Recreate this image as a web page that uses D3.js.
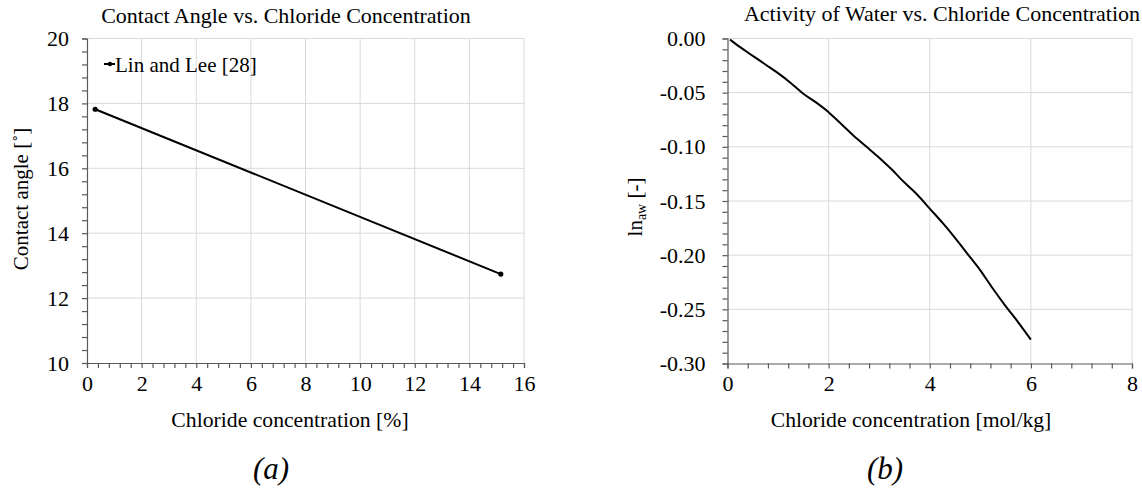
<!DOCTYPE html>
<html>
<head>
<meta charset="utf-8">
<script src="https://cdn.jsdelivr.net/npm/d3@7"></script>
<style>
  html, body { margin: 0; padding: 0; background: #fff; }
  text { font-family: "Liberation Serif", "Times New Roman", "DejaVu Serif", serif; }
</style>
</head>
<body>
<svg id="chart" width="1142" height="490"></svg>
<script>
// ---- Data: chart (a) ----
const angleConc = [0.3, 15.15];           // chloride concentration [%]
const angleVals = [17.82, 12.74];         // contact angle [deg]
const aXTicks = [0, 2, 4, 6, 8, 10, 12, 14, 16];
const aYTicks = [10, 12, 14, 16, 18, 20];
const aSeriesName = "Lin and Lee [28]";

// ---- Data: chart (b) ----
const molConc = [0.05, 0.25, 0.5, 0.75, 1.0, 1.25, 1.5, 1.75, 2.0, 2.25, 2.5, 2.75, 3.0,
                 3.25, 3.5, 3.75, 4.0, 4.25, 4.5, 4.75, 5.0, 5.25, 5.5, 5.75, 6.0];
const lnAw = [-0.001, -0.008, -0.016, -0.024, -0.032, -0.041, -0.051, -0.059, -0.068,
              -0.079, -0.090, -0.100, -0.110, -0.121, -0.133, -0.144, -0.157, -0.170,
              -0.184, -0.199, -0.214, -0.231, -0.247, -0.262, -0.278];
const bXTicks = [0, 2, 4, 6, 8];
const bYTicks = [0.00, -0.05, -0.10, -0.15, -0.20, -0.25, -0.30];

const svg = d3.select("#chart");
const axisColor = "#595959";
const gridColor = "#d9d9d9";
const FONT = '"Liberation Serif", "Times New Roman", "DejaVu Serif", serif';
const TICK_FS = 22;

function panel(opts) {
  const x = d3.scaleLinear().domain(opts.xDomain).range(opts.xRange);
  const y = d3.scaleLinear().domain(opts.yDomain).range(opts.yRange);
  const g = svg.append("g");

  g.append("g").selectAll("line").data(opts.xTicks.slice(1)).join("line")
    .attr("x1", d => x(d)).attr("x2", d => x(d))
    .attr("y1", opts.yRange[0]).attr("y2", opts.yRange[1])
    .attr("stroke", gridColor).attr("stroke-width", 1);
  g.append("g").selectAll("line").data(opts.yTicks.filter(d => d !== opts.yDomain[0])).join("line")
    .attr("x1", opts.xRange[0]).attr("x2", opts.xRange[1])
    .attr("y1", d => y(d)).attr("y2", d => y(d))
    .attr("stroke", gridColor).attr("stroke-width", 1);

  const xMinor = d3.range(0, Math.round((opts.xDomain[1] - opts.xDomain[0]) / opts.xMinor) + 1)
    .map(i => opts.xDomain[0] + i * opts.xMinor);
  const yMinor = d3.range(0, Math.round((opts.yDomain[1] - opts.yDomain[0]) / opts.yMinor) + 1)
    .map(i => opts.yDomain[0] + i * opts.yMinor);

  const gx = g.append("g").attr("transform", `translate(0,${opts.yRange[0]})`)
    .call(d3.axisBottom(x).tickValues(xMinor).tickSize(5).tickFormat(""));
  gx.selectAll("path, line").attr("stroke", axisColor).attr("stroke-width", 1.2);
  const gxl = g.append("g").attr("transform", `translate(0,${opts.yRange[0]})`)
    .call(d3.axisBottom(x).tickValues(opts.xTicks).tickSize(0).tickPadding(12).tickFormat(opts.xFmt));
  gxl.select("path").remove();
  gxl.selectAll("text").attr("fill", "#000").style("font-size", TICK_FS + "px");

  const gy = g.append("g").attr("transform", `translate(${opts.xRange[0]},0)`)
    .call(d3.axisLeft(y).tickValues(yMinor).tickSize(5).tickFormat(""));
  gy.selectAll("path, line").attr("stroke", axisColor).attr("stroke-width", 1.2);
  const gyl = g.append("g").attr("transform", `translate(${opts.xRange[0]},0)`)
    .call(d3.axisLeft(y).tickValues(opts.yTicks).tickSize(0).tickPadding(opts.yPad).tickFormat(opts.yFmt));
  gyl.select("path").remove();
  gyl.selectAll("text").attr("fill", "#000").style("font-size", TICK_FS + "px");

  return {x, y, g};
}

// ---- Panel (a) ----
const A = panel({
  xDomain: [0, 16], xRange: [87, 524],
  yDomain: [10, 20], yRange: [363, 38.5],
  xTicks: aXTicks, yTicks: aYTicks, xMinor: 0.4, yMinor: 0.4, yPad: 18,
  xFmt: d3.format("d"), yFmt: d3.format("d")
});
const aData = angleConc.map((c, i) => [c, angleVals[i]]);
A.g.append("path").datum(aData)
  .attr("d", d3.line().x(d => A.x(d[0])).y(d => A.y(d[1])))
  .attr("fill", "none").attr("stroke", "#000").attr("stroke-width", 2);
A.g.selectAll("circle.pt").data(aData).join("circle")
  .attr("cx", d => A.x(d[0])).attr("cy", d => A.y(d[1])).attr("r", 2.6).attr("fill", "#000");
A.g.append("line").attr("x1", 104).attr("x2", 115).attr("y1", 64).attr("y2", 64)
  .attr("stroke", "#000").attr("stroke-width", 2);
A.g.append("circle").attr("cx", 110).attr("cy", 64).attr("r", 2.2).attr("fill", "#000");
A.g.append("text").attr("x", 115).attr("y", 72).style("font-size", "21px").text(aSeriesName);

svg.append("text").attr("x", 286).attr("y", 23).attr("text-anchor", "middle")
  .style("font-size", "22px").text("Contact Angle vs. Chloride Concentration");
svg.append("text").attr("x", 290).attr("y", 427).attr("text-anchor", "middle")
  .style("font-size", "21.7px").text("Chloride concentration [%]");
svg.append("text").attr("transform", "translate(28,199) rotate(-90)").attr("text-anchor", "middle")
  .style("font-size", "21px").text("Contact angle [˚]");
svg.append("text").attr("x", 271).attr("y", 479).attr("text-anchor", "middle")
  .style("font-size", "31px").style("font-style", "italic").text("(a)");

// ---- Panel (b) ----
const B = panel({
  xDomain: [0, 8], xRange: [727.5, 1132],
  yDomain: [-0.30, 0.00], yRange: [363.5, 38.5],
  xTicks: bXTicks, yTicks: bYTicks, xMinor: 0.4, yMinor: 0.01, yPad: 22,
  xFmt: d3.format("d"), yFmt: d => d3.format(".2f")(d).replace("−", "-")
});
const bData = molConc.map((c, i) => [c, lnAw[i]]);
B.g.append("path").datum(bData)
  .attr("d", d3.line().x(d => B.x(d[0])).y(d => B.y(d[1])).curve(d3.curveMonotoneX))
  .attr("fill", "none").attr("stroke", "#000").attr("stroke-width", 2);

svg.append("text").attr("x", 942).attr("y", 21).attr("text-anchor", "middle")
  .style("font-size", "22px").text("Activity of Water vs. Chloride Concentration");
svg.append("text").attr("x", 911).attr("y", 427).attr("text-anchor", "middle")
  .style("font-size", "21.7px").text("Chloride concentration [mol/kg]");
const yl = svg.append("text").attr("transform", "translate(642,207) rotate(-90)")
  .attr("text-anchor", "middle").style("font-size", "21px");
yl.append("tspan").text("ln");
yl.append("tspan").style("font-size", "14px").attr("dy", 4).text("aw");
yl.append("tspan").attr("dy", -4).text(" [-]");
svg.append("text").attr("x", 885).attr("y", 479).attr("text-anchor", "middle")
  .style("font-size", "31px").style("font-style", "italic").text("(b)");

svg.selectAll("text").style("font-family", FONT);
</script>
</body>
</html>
